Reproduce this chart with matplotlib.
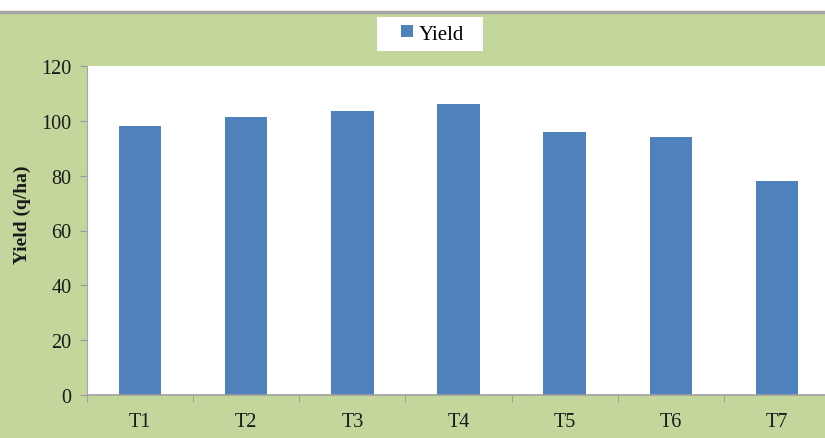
import numpy as np
import matplotlib.pyplot as plt
from matplotlib.patches import Rectangle
from matplotlib.lines import Line2D

# Ertrag je Behandlung
behandlungen = ["T1", "T2", "T3", "T4", "T5", "T6", "T7"]
ertrag = [98, 101.5, 103.7, 106, 96, 94, 78]

plt.rcParams['font.family'] = ['Liberation Serif', 'DejaVu Serif']

gruen = '#C3D69B'
blau = '#4F81BD'
W, H = 825, 439

fig = plt.figure(figsize=(W / 100, H / 100), dpi=100)
fig.patch.set_facecolor(gruen)

# weisser Streifen oben mit grauer Linie
oben = 1 - 13 / H
fig.patches.append(Rectangle((0, oben), 1, 1 - oben, transform=fig.transFigure,
                             facecolor='white', edgecolor='none', zorder=-2))
fig.lines.append(Line2D([0, 1], [oben, oben], transform=fig.transFigure,
                        color='#A6A6A6', lw=2.5, zorder=-1))
# weisser Kasten hinter der Legende
fig.patches.append(Rectangle((377 / W, 1 - 52 / H), 106 / W, 34 / H, transform=fig.transFigure,
                             facecolor='white', edgecolor='none', zorder=-1))

ax = fig.add_axes([87 / W, 43 / H, 743 / W, 329 / H])
ax.set_facecolor('white')

x = np.arange(len(behandlungen))
ax.bar(x, ertrag, width=0.4, color=blau, label='Yield', zorder=2)

ax.set_xlim(-0.5, len(behandlungen) - 0.5)
ax.set_ylim(0, 120)
ax.set_yticks(range(0, 121, 20))
ax.set_xticks(x)
ax.set_xticklabels(behandlungen)
# Teilstriche zwischen den Kategorien
ax.set_xticks(np.arange(-0.5, len(behandlungen), 1), minor=True)
ax.tick_params(axis='x', which='major', length=0, pad=12, labelsize=14.5, colors='#1a1a1a')
ax.tick_params(axis='x', which='minor', length=5, color='#9a9a9a')
ax.tick_params(axis='y', length=5, color='#9a9a9a', labelsize=14.5, labelcolor='#1a1a1a', pad=6)

for s in ['top', 'right']:
    ax.spines[s].set_visible(False)
ax.spines['left'].set_color('#a8a8a8')
ax.spines['bottom'].set_color('#a0a0a0')
ax.spines['bottom'].set_linewidth(1.2)

fig.text(22 / W, 1 - 215 / H, 'Yield (q/ha)', rotation=90, ha='center', va='center',
         fontsize=14, fontweight='bold', color='#1a1a1a')

ax.legend(loc='center', bbox_to_anchor=(433 / W, 1 - 35 / H),
          bbox_transform=fig.transFigure, frameon=False,
          fontsize=15, handlelength=0.55, handleheight=0.55, handletextpad=0.3,
          borderpad=0, borderaxespad=0)

fig.savefig('out.png', dpi=100, facecolor=fig.get_facecolor())
